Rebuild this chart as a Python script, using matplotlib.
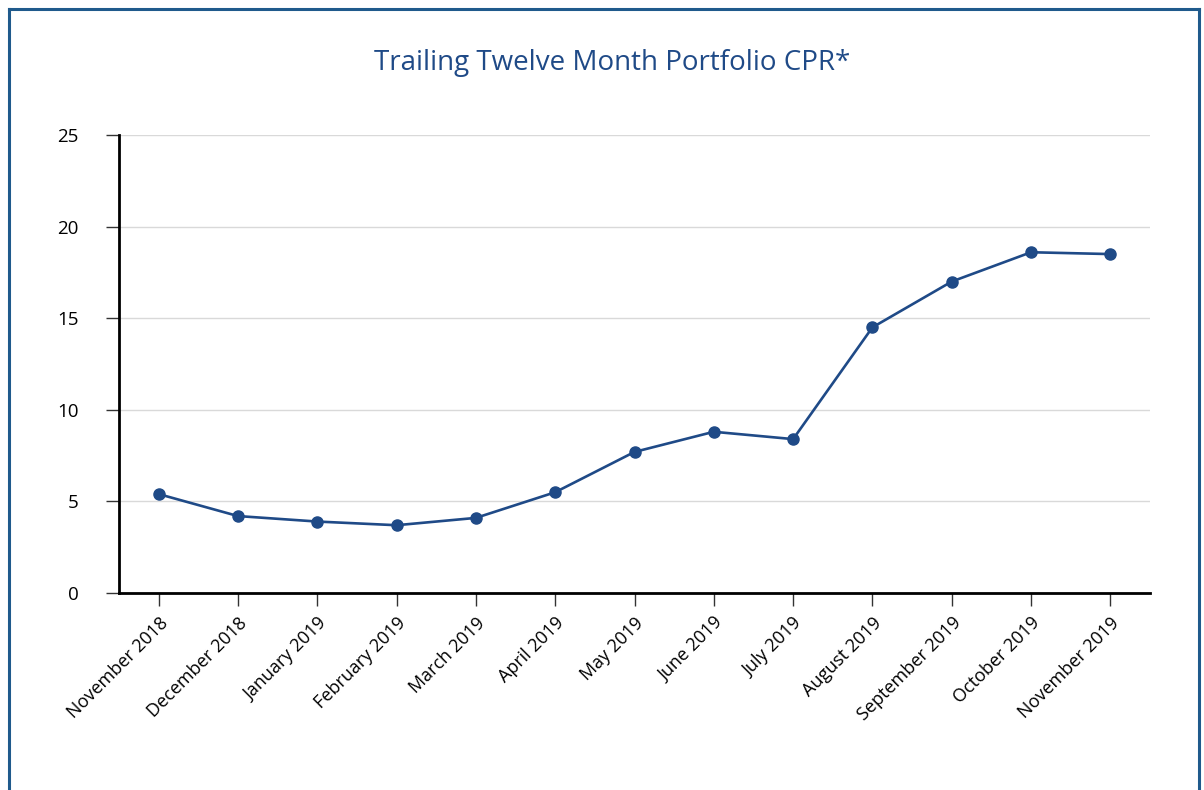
import matplotlib.pyplot as plt
from matplotlib.lines import Line2D

plt.rcParams['font.family'] = ['Open Sans', 'DejaVu Sans']

# 数据
months = ['November 2018', 'December 2018', 'January 2019', 'February 2019',
          'March 2019', 'April 2019', 'May 2019', 'June 2019', 'July 2019',
          'August 2019', 'September 2019', 'October 2019', 'November 2019']
cpr = [5.4, 4.2, 3.9, 3.7, 4.1, 5.5, 7.7, 8.8, 8.4, 14.5, 17.0, 18.6, 18.5]
yticks = [0, 5, 10, 15, 20, 25]

blue = '#1f4a87'

fig = plt.figure(figsize=(12.04, 7.90), dpi=100)
ax = fig.add_axes([119 / 1204, 1 - 593 / 790, 1031 / 1204, 458 / 790])

x = list(range(len(months)))
ax.plot(x, cpr, color=blue, linewidth=1.9, marker='o', markersize=8, zorder=3)

ax.set_xlim(-0.5, len(months) - 0.5)
ax.set_ylim(0, 25)
ax.set_yticks(yticks)
ax.set_yticklabels([str(v) for v in yticks])
ax.set_xticks(x)
ax.set_xticklabels(months, rotation=45, ha='right', rotation_mode='anchor')

ax.grid(axis='y', color='#d9d9d9', linewidth=1)
ax.set_axisbelow(True)
for s in ['top', 'right']:
    ax.spines[s].set_visible(False)
for s in ['left', 'bottom']:
    ax.spines[s].set_linewidth(2)
    ax.spines[s].set_color('black')

ax.tick_params(axis='y', length=9.5, width=1, color='#333333', pad=19.5, labelsize=13.5)
ax.tick_params(axis='x', length=9, width=1, color='#333333', pad=6, labelsize=13)

fig.text(612 / 1204, 1 - 63 / 790, 'Trailing Twelve Month Portfolio CPR*',
         ha='center', va='center', fontsize=20, color=blue)

# 外框（底边在图外）
bc = '#1f5a8c'
fig.add_artist(Line2D([9 / 1204, 9 / 1204], [0, 1 - 9 / 790], color=bc, lw=2.2, transform=fig.transFigure))
fig.add_artist(Line2D([9 / 1204, 1199 / 1204], [1 - 9 / 790, 1 - 9 / 790], color=bc, lw=2.2, transform=fig.transFigure))
fig.add_artist(Line2D([1199 / 1204, 1199 / 1204], [0, 1 - 9 / 790], color=bc, lw=2.2, transform=fig.transFigure))

fig.savefig('out.png', dpi=100)
